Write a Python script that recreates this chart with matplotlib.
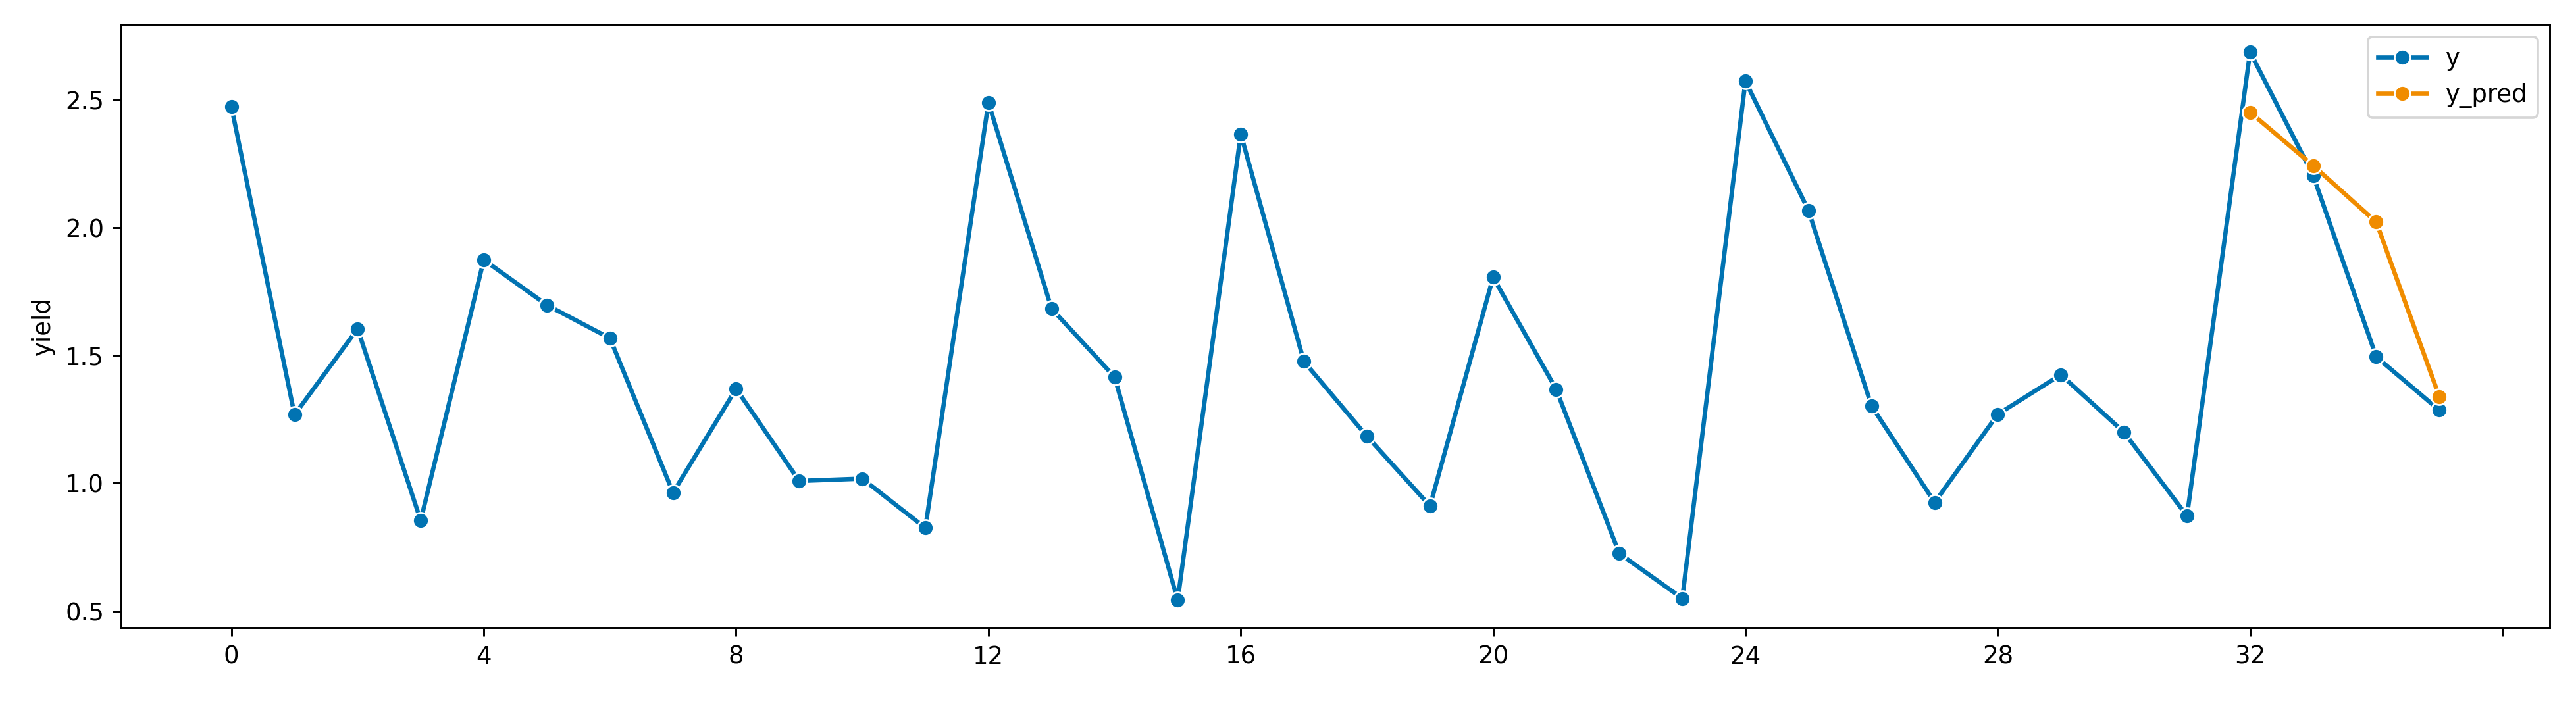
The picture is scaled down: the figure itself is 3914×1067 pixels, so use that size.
import numpy as np
import matplotlib
matplotlib.use("Agg")
import matplotlib.pyplot as plt

# observed series
y = [2.474, 1.268, 1.605, 0.854, 1.875, 1.698, 1.568, 0.963, 1.370, 1.009,
     1.018, 0.825, 2.491, 1.684, 1.416, 0.542, 2.368, 1.477, 1.184, 0.911,
     1.807, 1.368, 0.725, 0.549, 2.575, 2.068, 1.302, 0.925, 1.270, 1.425,
     1.200, 0.872, 2.689, 2.205, 1.495, 1.286]
y_idx = list(range(len(y)))

# forecast for the last four points
y_pred = [2.453, 2.244, 2.023, 1.339]
pred_idx = [32, 33, 34, 35]

# x ticks: the last one has no label (outside the index)
xticks = list(range(0, 37, 4))
xtick_labels = [str(t) if t < len(y) else "" for t in xticks]

blue = "#0173b2"
orange = "#f08c00"

dpi = 266
fig = plt.figure(figsize=(3914 / dpi, 1067 / dpi), dpi=dpi)
ax = fig.add_axes([0.047, 0.106, 0.9428, 0.859])

ax.plot(y_idx, y, "-o", color=blue, lw=1.8, ms=6.5, mec="white", mew=0.75, label="y")
ax.plot(pred_idx, y_pred, "-o", color=orange, lw=1.8, ms=6.5, mec="white", mew=0.75, label="y_pred")

ax.set_xticks(xticks)
ax.set_xticklabels(xtick_labels)
ax.set_yticks([0.5, 1.0, 1.5, 2.0, 2.5])
ax.set_ylabel("yield")
ax.legend(loc="upper right")

plt.savefig("out.png", dpi=dpi)
